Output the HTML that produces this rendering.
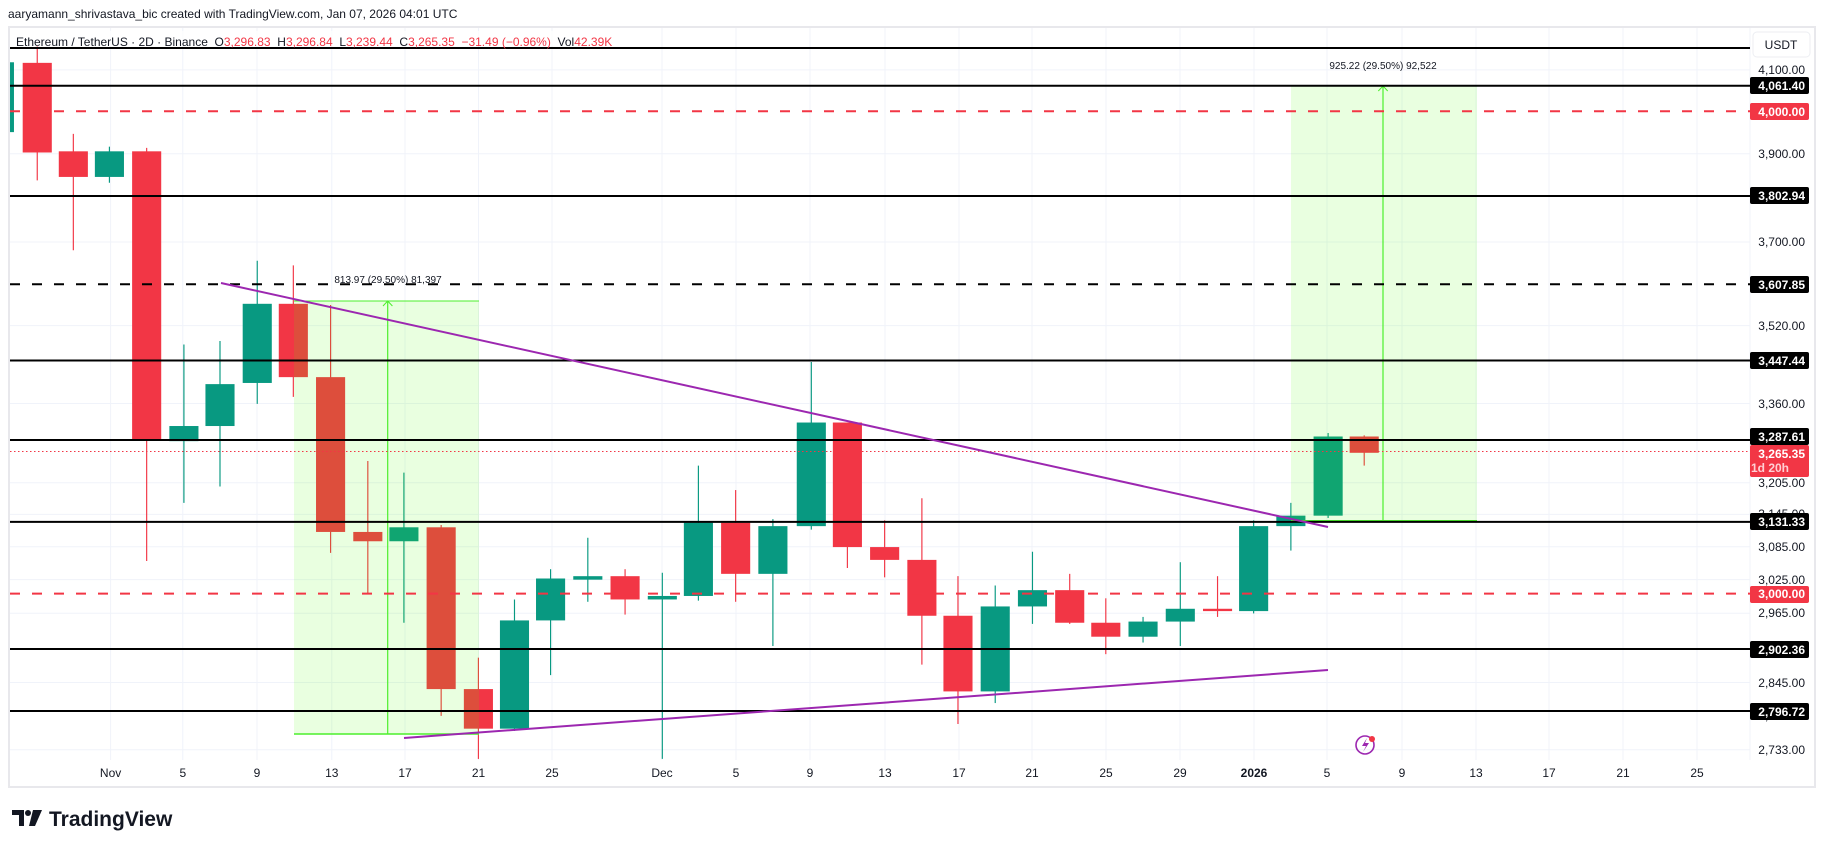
<!DOCTYPE html>
<html><head><meta charset="utf-8"><style>
html,body{margin:0;padding:0;background:#fff;}
svg{display:block;font-family:"Liberation Sans",Arial,sans-serif;}
</style></head><body>
<svg width="1825" height="847" viewBox="0 0 1825 847" xmlns="http://www.w3.org/2000/svg">
<rect width="1825" height="847" fill="#fff"/>
<text x="8" y="18" font-size="12" fill="#131722">aaryamann_shrivastava_bic created with TradingView.com, Jan 07, 2026 04:01 UTC</text>
<rect x="9" y="27" width="1806" height="760" fill="none" stroke="#e8e8ec" stroke-width="2"/>
<line x1="1750" y1="28" x2="1750" y2="760" stroke="#f0f3fa"/>
<g stroke="#f0f3fa" stroke-width="1">
<line x1="10" x2="1750" y1="69.9" y2="69.9"/><line x1="10" x2="1750" y1="153.7" y2="153.7"/>
<line x1="10" x2="1750" y1="242" y2="242"/><line x1="10" x2="1750" y1="325.6" y2="325.6"/>
<line x1="10" x2="1750" y1="403.5" y2="403.5"/><line x1="10" x2="1750" y1="482.7" y2="482.7"/>
<line x1="10" x2="1750" y1="514.4" y2="514.4"/><line x1="10" x2="1750" y1="546.7" y2="546.7"/>
<line x1="10" x2="1750" y1="579.6" y2="579.6"/><line x1="10" x2="1750" y1="613.2" y2="613.2"/>
<line x1="10" x2="1750" y1="682.5" y2="682.5"/><line x1="10" x2="1750" y1="749.8" y2="749.8"/>
<line y1="28" y2="760" x1="110.6" x2="110.6"/><line y1="28" y2="760" x1="182.8" x2="182.8"/>
<line y1="28" y2="760" x1="257" x2="257"/><line y1="28" y2="760" x1="331.8" x2="331.8"/>
<line y1="28" y2="760" x1="405" x2="405"/><line y1="28" y2="760" x1="478.5" x2="478.5"/>
<line y1="28" y2="760" x1="552" x2="552"/><line y1="28" y2="760" x1="662" x2="662"/>
<line y1="28" y2="760" x1="736" x2="736"/><line y1="28" y2="760" x1="810" x2="810"/>
<line y1="28" y2="760" x1="885" x2="885"/><line y1="28" y2="760" x1="959" x2="959"/>
<line y1="28" y2="760" x1="1032" x2="1032"/><line y1="28" y2="760" x1="1106" x2="1106"/>
<line y1="28" y2="760" x1="1180" x2="1180"/><line y1="28" y2="760" x1="1254" x2="1254"/>
<line y1="28" y2="760" x1="1327" x2="1327"/><line y1="28" y2="760" x1="1402" x2="1402"/>
<line y1="28" y2="760" x1="1476" x2="1476"/><line y1="28" y2="760" x1="1549" x2="1549"/>
<line y1="28" y2="760" x1="1623" x2="1623"/><line y1="28" y2="760" x1="1697" x2="1697"/>
</g>
<g transform="scale(1.164)">
<g fill="#089981" stroke="#089981">
<rect x="8.6" y="53.5" width="3.4" height="60" stroke="none"/>
<line x1="94" x2="94" y1="126" y2="157"/><rect x="81.5" y="130" width="25" height="22" stroke="none"/>
<line x1="158" x2="158" y1="296" y2="432"/><rect x="145.5" y="366" width="25" height="13" stroke="none"/>
<line x1="189" x2="189" y1="293" y2="418"/><rect x="176.5" y="330" width="25" height="36" stroke="none"/>
<line x1="221" x2="221" y1="224" y2="347"/><rect x="208.5" y="261" width="25" height="68" stroke="none"/>
<line x1="347" x2="347" y1="406" y2="535"/><rect x="334.5" y="453" width="25" height="12" stroke="none"/>
<line x1="442" x2="442" y1="515" y2="628"/><rect x="429.5" y="533" width="25" height="93" stroke="none"/>
<line x1="473" x2="473" y1="489" y2="580"/><rect x="460.5" y="497" width="25" height="36" stroke="none"/>
<line x1="505" x2="505" y1="462" y2="517"/><rect x="492.5" y="495" width="25" height="3" stroke="none"/>
<line x1="569" x2="569" y1="492" y2="652"/><rect x="556.5" y="512" width="25" height="3" stroke="none"/>
<line x1="600" x2="600" y1="400" y2="516"/><rect x="587.5" y="449" width="25" height="63" stroke="none"/>
<line x1="664" x2="664" y1="446" y2="555"/><rect x="651.5" y="452" width="25" height="41" stroke="none"/>
<line x1="697" x2="697" y1="311" y2="455"/><rect x="684.5" y="363" width="25" height="89" stroke="none"/>
<line x1="855" x2="855" y1="503" y2="604"/><rect x="842.5" y="521" width="25" height="73" stroke="none"/>
<line x1="887" x2="887" y1="474" y2="536"/><rect x="874.5" y="507" width="25" height="14" stroke="none"/>
<line x1="982" x2="982" y1="530" y2="552"/><rect x="969.5" y="534" width="25" height="13" stroke="none"/>
<line x1="1014" x2="1014" y1="483" y2="555"/><rect x="1001.5" y="523" width="25" height="11" stroke="none"/>
<line x1="1077" x2="1077" y1="447" y2="527"/><rect x="1064.5" y="452" width="25" height="73" stroke="none"/>
<line x1="1109" x2="1109" y1="432" y2="473"/><rect x="1096.5" y="443" width="25" height="9" stroke="none"/>
<line x1="1141" x2="1141" y1="372" y2="445"/><rect x="1128.5" y="375" width="25" height="68" stroke="none"/>
</g>
<g fill="#f23645" stroke="#f23645">
<line x1="32" x2="32" y1="40" y2="155"/><rect x="19.5" y="54" width="25" height="77" stroke="none"/>
<line x1="63" x2="63" y1="115" y2="215"/><rect x="50.5" y="130" width="25" height="22" stroke="none"/>
<line x1="126" x2="126" y1="127" y2="482"/><rect x="113.5" y="130" width="25" height="248" stroke="none"/>
<line x1="252" x2="252" y1="228" y2="341"/><rect x="239.5" y="261" width="25" height="63" stroke="none"/>
<line x1="284" x2="284" y1="262" y2="475"/><rect x="271.5" y="324" width="25" height="133" stroke="none"/>
<line x1="316" x2="316" y1="396" y2="510"/><rect x="303.5" y="457" width="25" height="8" stroke="none"/>
<line x1="379" x2="379" y1="451" y2="615"/><rect x="366.5" y="453" width="25" height="139" stroke="none"/>
<line x1="411" x2="411" y1="565" y2="652"/><rect x="398.5" y="592" width="25" height="34" stroke="none"/>
<line x1="537" x2="537" y1="489" y2="528"/><rect x="524.5" y="495" width="25" height="20" stroke="none"/>
<line x1="632" x2="632" y1="421" y2="517"/><rect x="619.5" y="449" width="25" height="44" stroke="none"/>
<line x1="728" x2="728" y1="363" y2="488"/><rect x="715.5" y="363" width="25" height="107" stroke="none"/>
<line x1="760" x2="760" y1="447" y2="496"/><rect x="747.5" y="470" width="25" height="11" stroke="none"/>
<line x1="792" x2="792" y1="428" y2="571"/><rect x="779.5" y="481" width="25" height="48" stroke="none"/>
<line x1="823" x2="823" y1="495" y2="622"/><rect x="810.5" y="529" width="25" height="65" stroke="none"/>
<line x1="919" x2="919" y1="493" y2="536"/><rect x="906.5" y="507" width="25" height="28" stroke="none"/>
<line x1="950" x2="950" y1="514" y2="562"/><rect x="937.5" y="535" width="25" height="12" stroke="none"/>
<line x1="1046" x2="1046" y1="495" y2="530"/><rect x="1033.5" y="523" width="25" height="2" stroke="none"/>
<line x1="1172" x2="1172" y1="374" y2="400"/><rect x="1159.5" y="375" width="25" height="14" stroke="none"/>
</g>
</g>
<rect x="294" y="301" width="185" height="433" fill="rgba(76,255,0,0.12)"/>
<line x1="294" x2="479" y1="301" y2="301" stroke="#4cef2c" stroke-width="1"/>
<line x1="294" x2="479" y1="734" y2="734" stroke="#4cef2c" stroke-width="1.5"/>
<line x1="387.7" x2="387.7" y1="302" y2="734" stroke="#4cef2c" stroke-width="1.2"/>
<path d="M383 306 L387.7 301 L392.4 306" fill="none" stroke="#4cef2c"/>
<text x="388" y="283" font-size="10" fill="#131722" text-anchor="middle">813.97 (29.50%) 81,397</text>
<rect x="1291" y="86" width="186" height="435" fill="rgba(76,255,0,0.12)"/>
<line x1="1291" x2="1477" y1="520.7" y2="520.7" stroke="#4cef2c" stroke-width="1.5"/>
<line x1="1383" x2="1383" y1="87" y2="521" stroke="#4cef2c" stroke-width="1.2"/>
<path d="M1378.3 91 L1383 86 L1387.7 91" fill="none" stroke="#4cef2c"/>
<text x="1383" y="69" font-size="10" fill="#131722" text-anchor="middle">925.22 (29.50%) 92,522</text>
<g stroke-width="2" fill="none">
<line x1="10" x2="1750" y1="48" y2="48" stroke="#000"/>
<line x1="10" x2="1750" y1="85.7" y2="85.7" stroke="#000"/>
<line x1="10" x2="1750" y1="111.3" y2="111.3" stroke="#f23645" stroke-dasharray="10,12"/>
<line x1="10" x2="1750" y1="196" y2="196" stroke="#000"/>
<line x1="10" x2="1750" y1="284.2" y2="284.2" stroke="#000" stroke-dasharray="10,12"/>
<line x1="10" x2="1750" y1="360.5" y2="360.5" stroke="#000"/>
<line x1="10" x2="1750" y1="440" y2="440" stroke="#000"/>
<line x1="10" x2="1750" y1="521.9" y2="521.9" stroke="#000"/>
<line x1="10" x2="1750" y1="593.6" y2="593.6" stroke="#f23645" stroke-dasharray="10,12"/>
<line x1="10" x2="1750" y1="649" y2="649" stroke="#000"/>
<line x1="10" x2="1750" y1="711" y2="711" stroke="#000"/>
</g>
<line x1="10" x2="1750" y1="451.5" y2="451.5" stroke="#f23645" stroke-width="1" stroke-dasharray="1.5,2.5"/>
<line x1="221" y1="283" x2="1328" y2="527" stroke="#9c27b0" stroke-width="2"/>
<line x1="404" y1="738" x2="1328" y2="670" stroke="#9c27b0" stroke-width="2"/>
<rect x="12" y="31" width="610" height="15" fill="#fff" opacity="0.7"/>
<text x="16" y="46" font-size="12" fill="#131722" xml:space="preserve">Ethereum / TetherUS · 2D · Binance  O<tspan fill="#f23645">3,296.83</tspan>  H<tspan fill="#f23645">3,296.84</tspan>  L<tspan fill="#f23645">3,239.44</tspan>  C<tspan fill="#f23645">3,265.35</tspan>  <tspan fill="#f23645">−31.49 (−0.96%)</tspan>  Vol<tspan fill="#f23645">42.39K</tspan></text>
<rect x="1753" y="32" width="57" height="25" rx="4" fill="#fff" stroke="#eceef2"/>
<text x="1781" y="49" font-size="12" fill="#131722" text-anchor="middle">USDT</text>
<g font-size="12" fill="#131722" text-anchor="end">
<text x="1805" y="74">4,100.00</text><text x="1805" y="158">3,900.00</text>
<text x="1805" y="246">3,700.00</text><text x="1805" y="330">3,520.00</text>
<text x="1805" y="408">3,360.00</text><text x="1805" y="487">3,205.00</text>
<text x="1805" y="518">3,145.00</text><text x="1805" y="551">3,085.00</text>
<text x="1805" y="584">3,025.00</text><text x="1805" y="617">2,965.00</text>
<text x="1805" y="687">2,845.00</text><text x="1805" y="720">2,785.00</text>
<text x="1805" y="754">2,733.00</text>
</g>
<g font-size="12" fill="#fff" text-anchor="end" font-weight="bold">
<rect x="1750" y="77" width="59" height="17" rx="2" fill="#000"/><text x="1805" y="90">4,061.40</text>
<rect x="1750" y="103" width="59" height="17" rx="2" fill="#f23645"/><text x="1805" y="116">4,000.00</text>
<rect x="1750" y="187" width="59" height="17" rx="2" fill="#000"/><text x="1805" y="200">3,802.94</text>
<rect x="1750" y="276" width="59" height="17" rx="2" fill="#000"/><text x="1805" y="289">3,607.85</text>
<rect x="1750" y="352" width="59" height="17" rx="2" fill="#000"/><text x="1805" y="365">3,447.44</text>
<rect x="1750" y="428" width="59" height="17" rx="2" fill="#000"/><text x="1805" y="441">3,287.61</text>
<rect x="1750" y="445" width="59" height="32" rx="2" fill="#f23645"/><text x="1805" y="458">3,265.35</text><text x="1789" y="472" text-anchor="end" fill="#ffd0d4">1d 20h</text>
<rect x="1750" y="513" width="59" height="17" rx="2" fill="#000"/><text x="1805" y="526">3,131.33</text>
<rect x="1750" y="586" width="59" height="17" rx="2" fill="#f23645"/><text x="1805" y="598">3,000.00</text>
<rect x="1750" y="641" width="59" height="17" rx="2" fill="#000"/><text x="1805" y="654">2,902.36</text>
<rect x="1750" y="703" width="59" height="17" rx="2" fill="#000"/><text x="1805" y="716">2,796.72</text>
</g>
<g font-size="12" fill="#131722" text-anchor="middle">
<text x="110.6" y="777">Nov</text><text x="182.8" y="777">5</text><text x="257" y="777">9</text>
<text x="331.8" y="777">13</text><text x="405" y="777">17</text><text x="478.5" y="777">21</text>
<text x="552" y="777">25</text><text x="662" y="777">Dec</text><text x="736" y="777">5</text>
<text x="810" y="777">9</text><text x="885" y="777">13</text><text x="959" y="777">17</text>
<text x="1032" y="777">21</text><text x="1106" y="777">25</text><text x="1180" y="777">29</text>
<text x="1254" y="777" font-weight="bold">2026</text><text x="1327" y="777">5</text>
<text x="1402" y="777">9</text><text x="1476" y="777">13</text><text x="1549" y="777">17</text>
<text x="1623" y="777">21</text><text x="1697" y="777">25</text>
</g>
<circle cx="1365" cy="745" r="9" fill="none" stroke="#9c27b0" stroke-width="1.6"/>
<path d="M1367 738 L1362 746 L1366 746 L1363 752 L1369 743 L1365 743 Z" fill="#9c27b0"/>
<circle cx="1372" cy="739" r="3" fill="#f23645"/>
<path d="M12 810 H24 V826 H19 V815 H12 Z" fill="#131722"/>
<circle cx="28" cy="813" r="3" fill="#131722"/>
<path d="M33 810 H42 L35 826 H29 Z" fill="#131722"/>
<text x="49" y="826" font-size="21" font-weight="bold" fill="#131722">TradingView</text>
</svg>
</body></html>
